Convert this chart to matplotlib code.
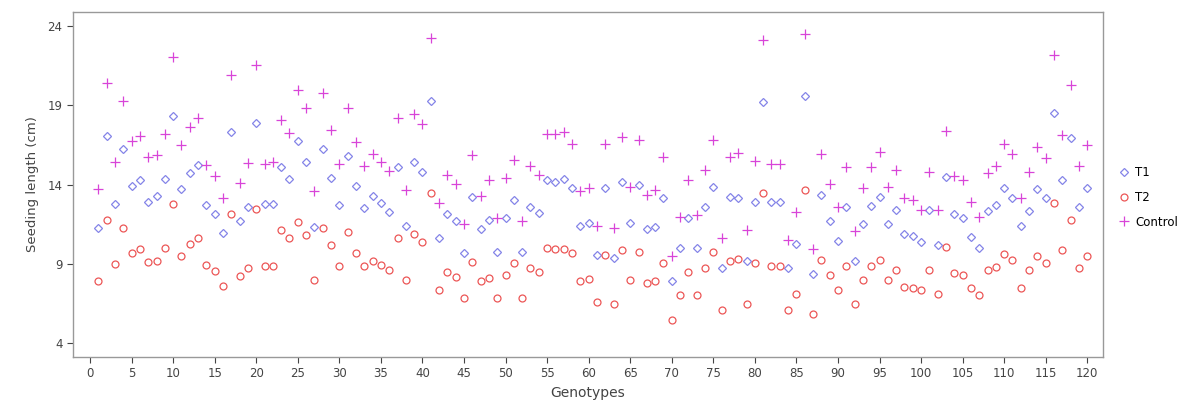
import matplotlib
matplotlib.use("Agg")
import matplotlib.pyplot as plt

genotypes = list(range(1, 121))

t1 = [11.27, 17.06, 12.77, 16.24, 13.91, 14.29, 12.92, 13.27, 14.35, 18.32,
      13.69, 14.70, 15.23, 12.73, 12.12, 10.92, 17.33, 11.70, 12.60, 17.86,
      12.77, 12.77, 15.13, 14.35, 16.74, 15.44, 11.34, 16.22, 14.39, 12.71,
      15.80, 13.90, 12.54, 13.27, 12.81, 12.29, 15.08, 11.38, 15.44, 14.81,
      19.27, 10.60, 12.12, 11.70, 9.66, 13.20, 11.19, 11.76, 9.76, 11.86,
      13.02, 9.76, 12.60, 12.18, 14.29, 14.18, 14.35, 13.80, 11.40, 11.55,
      9.55, 13.80, 9.34, 14.18, 11.55, 13.97, 11.19, 11.34, 13.17, 7.87,
      9.97, 11.86, 10.01, 12.60, 13.86, 8.75, 13.20, 13.17, 9.17, 12.87,
      19.23, 12.87, 12.87, 8.75, 10.22, 19.60, 8.33, 13.34, 11.70, 10.44,
      12.60, 9.17, 11.49, 12.67, 13.23, 11.49, 12.39, 10.86, 10.77, 10.35,
      12.39, 10.20, 14.50, 12.12, 11.86, 10.70, 9.97, 12.35, 12.71, 13.80,
      13.17, 11.40, 12.33, 13.72, 13.13, 18.49, 14.29, 16.91, 12.60, 13.80]

t2 = [7.87, 11.76, 8.96, 11.27, 9.70, 9.91, 9.13, 9.17, 10.01, 12.75,
      9.51, 10.22, 10.65, 8.90, 8.55, 7.60, 12.12, 8.23, 8.75, 12.45,
      8.88, 8.88, 11.13, 10.60, 11.65, 10.81, 7.97, 11.27, 10.18, 8.82,
      11.02, 9.70, 8.82, 9.17, 8.92, 8.60, 10.60, 7.97, 10.86, 10.35,
      13.44, 7.34, 8.50, 8.18, 6.82, 9.13, 7.87, 8.08, 6.82, 8.29,
      9.02, 6.82, 8.75, 8.50, 9.97, 9.91, 9.91, 9.66, 7.91, 8.04,
      6.60, 9.55, 6.44, 9.87, 7.97, 9.76, 7.76, 7.87, 9.02, 5.45,
      6.99, 8.50, 7.03, 8.71, 9.76, 6.08, 9.17, 9.30, 6.44, 9.02,
      13.44, 8.86, 8.86, 6.08, 7.07, 13.65, 5.81, 9.24, 8.25, 7.34,
      8.82, 6.44, 7.97, 8.82, 9.24, 7.97, 8.60, 7.55, 7.45, 7.34,
      8.60, 7.07, 10.05, 8.39, 8.25, 7.49, 6.99, 8.62, 8.76, 9.60,
      9.24, 7.45, 8.60, 9.45, 9.02, 12.81, 9.87, 11.76, 8.75, 9.51]

control = [13.69, 20.43, 15.44, 19.27, 16.74, 17.06, 15.71, 15.86, 17.19, 22.07,
           16.49, 17.65, 18.22, 15.25, 14.54, 13.13, 20.95, 14.12, 15.34, 21.58,
           15.27, 15.44, 18.07, 17.23, 20.00, 18.81, 13.61, 19.79, 17.44, 15.27,
           18.81, 16.70, 15.17, 15.90, 15.44, 14.85, 18.22, 13.65, 18.43, 17.80,
           23.26, 12.81, 14.60, 14.01, 11.50, 15.86, 13.30, 14.30, 11.86, 14.39,
           15.55, 11.70, 15.17, 14.60, 17.20, 17.20, 17.30, 16.53, 13.60, 13.80,
           11.40, 16.53, 11.24, 17.02, 13.86, 16.80, 13.33, 13.65, 15.76, 9.45,
           11.97, 14.29, 12.07, 14.90, 16.80, 10.60, 15.76, 15.97, 11.13, 15.48,
           23.16, 15.27, 15.27, 10.50, 12.24, 23.54, 9.93, 15.90, 14.01, 12.60,
           15.13, 11.07, 13.80, 15.13, 16.07, 13.86, 14.91, 13.17, 13.02, 12.39,
           14.81, 12.39, 17.38, 14.56, 14.29, 12.90, 11.97, 14.70, 15.18, 16.53,
           15.90, 13.13, 14.81, 16.39, 15.69, 22.20, 17.12, 20.32, 15.17, 16.49]

xticks = list(range(0, 121, 5))
yticks = [4, 9, 14, 19, 24]

fig = plt.figure(figsize=(11.93, 4.17), dpi=100)
ax = fig.add_axes([0.0612, 0.144, 0.8634, 0.827])

ax.plot(genotypes, t1, linestyle="none", marker="D", markersize=3.8,
        markerfacecolor="none", markeredgecolor="#8484e8", markeredgewidth=0.9, label="T1")
ax.plot(genotypes, t2, linestyle="none", marker="o", markersize=5.0,
        markerfacecolor="none", markeredgecolor="#ec5656", markeredgewidth=0.9, label="T2")
ax.plot(genotypes, control, linestyle="none", marker="+", markersize=7,
        color="#d844d8", markeredgewidth=0.9, label="Control")

ax.set_xlim(-2.05, 121.9)
ax.set_ylim(3.1, 24.9)
ax.set_xticks(xticks)
ax.set_yticks(yticks)
ax.tick_params(axis="both", labelsize=8.5, colors="#444444", length=4, width=0.8)
for s in ax.spines.values():
    s.set_color("#999999")
    s.set_linewidth(1.0)

ax.set_xlabel("Genotypes", fontsize=10, color="#444444", labelpad=4)
ax.set_ylabel("Seeding length (cm)", fontsize=9.5, color="#444444", labelpad=6)

fig.legend(loc="center left", bbox_to_anchor=(0.927, 0.527), frameon=False,
           fontsize=8.5, handletextpad=0.4, labelspacing=1.0, handlelength=1.2)

fig.savefig("out.png", dpi=100)
